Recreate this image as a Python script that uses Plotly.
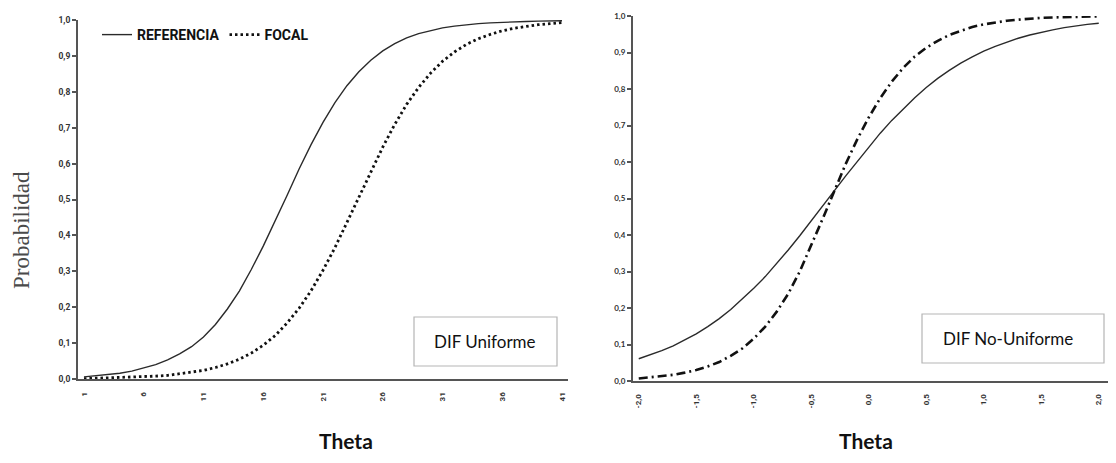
import plotly.graph_objects as go

# ---------- data ----------
theta_left = list(range(1, 42))
referencia = [0.006, 0.009, 0.012, 0.016, 0.022, 0.030, 0.040, 0.053, 0.070, 0.090,
              0.117, 0.152, 0.195, 0.245, 0.305, 0.370, 0.440, 0.512, 0.585, 0.653,
              0.715, 0.770, 0.817, 0.856, 0.888, 0.914, 0.934, 0.950, 0.962, 0.971,
              0.978, 0.983, 0.987, 0.990, 0.992, 0.994, 0.995, 0.996, 0.997, 0.998, 0.998]
focal = [0.001, 0.002, 0.002, 0.003, 0.004, 0.006, 0.008, 0.010, 0.014, 0.018,
         0.024, 0.032, 0.042, 0.055, 0.072, 0.094, 0.121, 0.156, 0.197, 0.246,
         0.303, 0.366, 0.436, 0.507, 0.579, 0.646, 0.709, 0.765, 0.812, 0.852,
         0.885, 0.911, 0.932, 0.948, 0.960, 0.970, 0.977, 0.983, 0.987, 0.990, 0.993]

theta_right = [round(-2.0 + 0.1 * i, 1) for i in range(41)]
ref_nu = [0.061, 0.071, 0.083, 0.096, 0.112, 0.129, 0.149, 0.171, 0.196, 0.224,
          0.254, 0.286, 0.321, 0.359, 0.398, 0.438, 0.479, 0.521, 0.562, 0.602,
          0.641, 0.679, 0.714, 0.746, 0.776, 0.804, 0.829, 0.851, 0.871, 0.888,
          0.904, 0.917, 0.929, 0.939, 0.948, 0.956, 0.962, 0.968, 0.973, 0.977, 0.980]
foc_nu = [0.007, 0.010, 0.013, 0.017, 0.023, 0.030, 0.040, 0.052, 0.069, 0.089,
          0.116, 0.149, 0.190, 0.239, 0.300, 0.370, 0.445, 0.520, 0.595, 0.662,
          0.722, 0.775, 0.820, 0.858, 0.889, 0.913, 0.932, 0.948, 0.960, 0.970,
          0.977, 0.983, 0.987, 0.990, 0.993, 0.995, 0.996, 0.997, 0.998, 0.998, 0.999]

y_ticks = [i / 10 for i in range(11)]
y_ticktext = ["0,0", "0,1", "0,2", "0,3", "0,4", "0,5", "0,6", "0,7", "0,8", "0,9", "1,0"]
x_left_ticks = [1, 6, 11, 16, 21, 26, 31, 36, 41]
x_right_ticks = [-2.0, -1.5, -1.0, -0.5, 0.0, 0.5, 1.0, 1.5, 2.0]
x_right_text = ["-2,0", "-1,5", "-1,0", "-0,5", "0,0", "0,5", "1,0", "1,5", "2,0"]

# the page body has an 8px margin: lay out in screen pixels and shift
OFF = 8
W, H = 1116 - OFF, 463 - 2 * OFF
def px(x):
    return (x - OFF) / W
def py(y):
    return 1 - (y - OFF) / H

narrow = "Liberation Sans Narrow, Arial Narrow, Roboto, Liberation Sans"
calib = "Lato, Open Sans, Noto Sans, sans-serif"

fig = go.Figure()
fig.add_trace(go.Scatter(x=theta_left, y=referencia, mode="lines", name="REFERENCIA",
                         line=dict(color="#2a2a2a", width=1.4), xaxis="x", yaxis="y"))
fig.add_trace(go.Scatter(x=theta_left, y=focal, mode="lines", name="FOCAL",
                         line=dict(color="#111", width=2.8, dash="2.5px,3px"), xaxis="x", yaxis="y"))
fig.add_trace(go.Scatter(x=theta_right, y=ref_nu, mode="lines", showlegend=False,
                         line=dict(color="#2a2a2a", width=1.4), xaxis="x2", yaxis="y2"))
fig.add_trace(go.Scatter(x=theta_right, y=foc_nu, mode="lines", showlegend=False,
                         line=dict(color="#111", width=2.6, dash="9px,4px,2px,4px"),
                         xaxis="x2", yaxis="y2"))

axis_common = dict(showgrid=False, zeroline=False, showline=True, linecolor="#555",
                   linewidth=2, automargin=False, ticklabeloverflow="allow")

fig.update_layout(
    width=W, height=H,
    margin=dict(l=0, r=0, t=0, b=0),
    paper_bgcolor="white", plot_bgcolor="white",
    xaxis=dict(domain=[px(78), px(568)], range=[0.5, 41.5], tickvals=x_left_ticks,
               ticktext=[str(v) for v in x_left_ticks], tickangle=-90, ticks="",
               ticklabelstandoff=8,
               tickfont=dict(family=narrow, size=8, color="#333", weight="bold"),
               anchor="y", **axis_common),
    yaxis=dict(domain=[py(379), py(20)], range=[0, 1], tickvals=y_ticks,
               ticktext=y_ticktext, ticks="outside", ticklen=4, tickcolor="#555",
               tickwidth=1.5,
               tickfont=dict(family=narrow, size=8.5, color="#333", weight="bold"),
               anchor="x", **axis_common),
    xaxis2=dict(domain=[px(633), 1.0], range=[-2.05, 2.15], tickvals=x_right_ticks,
                ticktext=x_right_text, tickangle=-90, ticks="", ticklabelstandoff=8,
                tickfont=dict(family=narrow, size=8, color="#333", weight="bold"),
                anchor="y2", **axis_common),
    yaxis2=dict(domain=[py(381), py(16)], range=[0, 1], tickvals=y_ticks,
                ticktext=y_ticktext, ticks="outside", ticklen=4, tickcolor="#555",
                tickwidth=1.5,
                tickfont=dict(family=calib, size=8, color="#333", weight="bold"),
                anchor="x2", **axis_common),
    legend=dict(orientation="h", x=px(97), y=py(19), xanchor="left", yanchor="top",
                bgcolor="rgba(0,0,0,0)",
                font=dict(family=narrow, size=14, color="#111", weight="bold"),
                itemwidth=30, tracegroupgap=0),
    showlegend=True,
)

# text boxes
fig.add_shape(type="rect", xref="paper", yref="paper", x0=px(414), x1=px(557),
              y0=py(366), y1=py(317), line=dict(color="#b5b5b5", width=1.2),
              fillcolor="white")
fig.add_annotation(xref="paper", yref="paper", x=px(485), y=py(341), text="DIF Uniforme",
                   xanchor="center", yanchor="middle",
                   showarrow=False, font=dict(family=calib, size=17, color="#111"))
fig.add_shape(type="rect", xref="paper", yref="paper", x0=px(922), x1=px(1104),
              y0=py(363), y1=py(314), line=dict(color="#b5b5b5", width=1.2),
              fillcolor="white")
fig.add_annotation(xref="paper", yref="paper", x=px(1008), y=py(338), text="DIF No-Uniforme",
                   xanchor="center", yanchor="middle",
                   showarrow=False, font=dict(family=calib, size=17, color="#111"))

# axis titles
fig.add_annotation(xref="paper", yref="paper", x=px(22), y=py(230), text="Probabilidad",
                   xanchor="center", yanchor="middle", textangle=-90, showarrow=False,
                   font=dict(family="Liberation Serif, DejaVu Serif, serif", size=23, color="#4a4a4a"))
fig.add_annotation(xref="paper", yref="paper", x=px(346), y=py(440), text="Theta",
                   xanchor="center", yanchor="middle", showarrow=False,
                   font=dict(family=calib, size=21, color="#111", weight="bold"))
fig.add_annotation(xref="paper", yref="paper", x=px(866), y=py(440), text="Theta",
                   xanchor="center", yanchor="middle", showarrow=False,
                   font=dict(family=calib, size=21, color="#111", weight="bold"))

fig.write_html("out.html")
